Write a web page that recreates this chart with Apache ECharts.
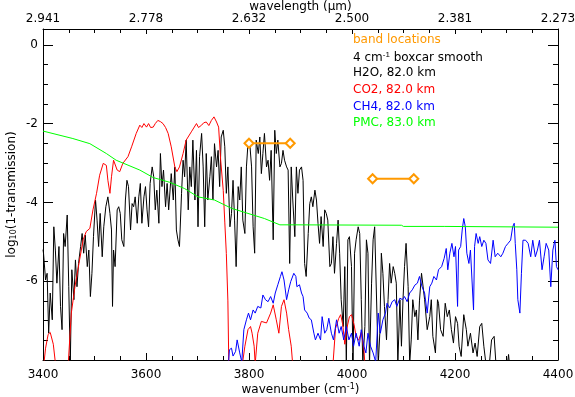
<!DOCTYPE html>
<html>
<head>
<meta charset="utf-8">
<script src="https://cdn.jsdelivr.net/npm/echarts@6/dist/echarts.min.js"></script>
<style>
  html, body { margin: 0; padding: 0; background: #fff; }
  #chart { width: 575px; height: 397px; }
</style>
</head>
<body>
<div id="chart"></div>
<script>
// H2O, 82 km
var h2oWn = [3400,3401,3405,3408,3411,3414,3418,3421,3424,3427,3431,3434,3437,3440,3443,3447,3450,3453,3456,3460,3463,3466,3469,3473,3476,3479,3482,3486,3489,3492,3495,3498,3502,3505,3508,3511,3515,3518,3522,3526,3530,3533,3535,3537,3540,3544,3547,3550,3553,3557,3560,3563,3566,3570,3573,3576,3579,3583,3586,3589,3592,3596,3599,3602,3605,3608,3612,3615,3618,3621,3625,3628,3631,3634,3638,3641,3644,
  3649,3653,3656,3659,3662,3665,3669,3672,3675,3678,3682,3685,3688,3691,3695,3698,3701,3704,3708,3711,3714,3717,3720,3724,3727,3730,3733,3737,3740,3743,3746,3750,3753,3756,3759,3763,3766,3769,3772,3775,3779,3782,3785,3788,3792,3795,3798,3801,3805,3808,3811,3814,3818,3821,3824,3827,3830,3834,3837,3840,3843,3847,3850,3853,3856,3860,3863,3866,3869,3873,3876,
  3879,3882,3885,3889,3892,3895,3898,3902,3905,3908,3911,3915,3918,3921,3924,3928,3931,3934,3937,3940,3944,3947,3950,3953,3957,3960,3963,3966,3970,3973,3976,3979,3983,3986,3989,3992,3995,3999,4002,4005,4008,4012,4015,4018,4021,4025,4028,4031,4034,4038,4041,4044,4047,4051,4054,4057,4060,4063,4067,4070,4073,4076,4080,4083,4086,4089,4093,4096,4099,4102,4105,4109,4112,4115,4118,
  4122,4125,4128,4131,4135,4138,4141,4146,4151,4154,4157,4162,4166,4168,4172,4177,4181,4185,4189,4193,4197,4201,4205,4208,4212,4217,4222,4225,4230,4235,4239,4243,4248,4252,4256,4261,4266,4271,4276,4280,4290,4300,4304,4307];
var h2oVal = [-5.2,-5.29,-5.97,-5.8,-7.32,-6.3,-6.98,-4.62,-5.21,-6.05,-5.12,-6.64,-7.23,-4.79,-5.12,-4.32,-6.14,-8.1,-5.71,-6.47,-5.46,-6.14,-5.55,-5.12,-4.79,-5.29,-4.83,-5.63,-5.21,-6.39,-5.8,-4.87,-3.94,-4.45,-5.12,-4.28,-5.38,-4.62,-4.11,-3.86,-4.28,-4.7,-6.64,-5.21,-5.63,-4.19,-4.11,-4.28,-4.95,-5.12,-3.94,-3.44,-3.6,-4.7,-4.03,-4.11,-3.86,-4.53,-3.86,-3.52,-4.53,-3.86,-3.6,-4.19,-4.62,-3.52,-3.1,-3.35,-4.19,-3.69,-4.53,-2.76,-3.6,-3.18,-4.11,-3.52,-4.19,
  -3.27,-3.94,-3.1,-4.7,-4.95,-5.12,-3.77,-2.93,-3.35,-2.42,-4.19,-3.1,-3.6,-2.42,-3.94,-2.68,-4.62,-2.84,-2.25,-3.1,-4.62,-2.76,-3.94,-3.35,-2.84,-3.94,-2.51,-3.1,-2.68,-3.6,-2.34,-2.17,-2.59,-3.77,-3.1,-4.62,-4.28,-3.44,-4.45,-5.63,-3.6,-3.94,-3.1,-4.45,-4.79,-3.1,-2.51,-2.42,-3.1,-4.62,-5.29,-2.42,-2.76,-2.34,-3.27,-2.76,-2.25,-3.1,-2.93,-3.44,-2.68,-4.95,-2.17,-2.76,-2.42,-3.1,-3.01,-2.68,-2.93,-3.1,-3.18,
  -5.55,-3.1,-3.94,-4.87,-3.1,-3.77,-3.18,-3.1,-3.44,-5.55,-5.88,-4.79,-4.03,-3.86,-4.11,-3.69,-3.94,-4.53,-5.04,-4.36,-5.12,-4.19,-4.28,-4.45,-5.63,-5.55,-4.87,-5.8,-5.04,-4.45,-5.29,-6.47,-7.15,-5.63,-8.1,-4.95,-4.87,-5.63,-8.1,-5.29,-4.95,-4.62,-4.79,-6.47,-8.1,-7.15,-4.95,-5.29,-8.1,-6.05,-4.95,-4.62,-4.62,-8.1,-7.32,-5.29,-5.8,-6.64,-7.49,-6.47,-5.55,-6.05,-5.63,-5.8,-6.05,-8.1,-6.47,-7.65,-6.47,-5.63,-5.04,-6.14,-8.1,-7.49,-6.47,
  -6.9,-6.73,-7.49,-6.5,-5.8,-5.76,-6.47,-7.23,-6.9,-6.47,-7.4,-7.82,-6.47,-6.56,-7.23,-7.4,-6.56,-6.9,-6.73,-7.23,-7.57,-6.9,-7.07,-7.65,-7.91,-6.85,-7.23,-7.65,-7.32,-7.82,-7.57,-7.91,-7.15,-7.07,-7.65,-8.2,-8.2,-7.49,-7.4,-8.2,-8.3,-8.3,-7.86,-8.3];

// CO2, 82 km (below the axis where it drops out)
var co2Wn = [3400,3405,3410,3414,3420,3426,3445,3449,3455,3462,3471,3478,3484,3491,3497,3504,3510,3517,3523,3526,3530,3533,3537,3544,3549,3555,3565,3572,3581,3588,3592,3596,3601,3605,3609,3614,3618,3623,3628,3633,3638,3643,3649,3656,3660,3665,3672,3678,3688,3698,3702,3708,3712,3717,3722,3727,3732,3737,3741,3745,3750,3753,3756,3759,3761,
  3785,3792,3798,3803,3806,3810,3812,3817,3824,3834,3842,3847,3853,3858,3863,3868,3873,3877,3882,3886,3962,3968,3974,3978,3982,3986,3990,3995,3999,4004,4008,4013,4018,4023,4026];
var co2Val = [-8.3,-7.7,-7.35,-7.3,-7.6,-8.3,-8.3,-8.1,-6.81,-6.14,-5.46,-4.95,-4.74,-4.66,-4.19,-3.77,-3.31,-3.01,-3.06,-3.44,-3.77,-3.35,-2.93,-3.18,-3.22,-3.01,-2.84,-2.59,-2.25,-2.04,-2.1,-2.0,-2.09,-2.0,-2.1,-2.09,-2.0,-1.92,-1.95,-2.0,-2.1,-2.25,-2.59,-3.1,-3.22,-3.1,-2.76,-2.42,-2.21,-2.0,-2.1,-2.04,-1.98,-1.96,-2.05,-1.92,-1.83,-1.96,-2.09,-2.93,-3.7,-4.5,-5.3,-6.5,-8.3,
  -8.3,-7.65,-7.23,-7.15,-7.32,-7.65,-8.1,-7.32,-7.02,-7.06,-6.81,-6.6,-6.98,-7.32,-6.64,-6.47,-6.81,-7.23,-7.65,-8.3,-8.3,-7.2,-6.95,-6.85,-7.1,-7.6,-7.2,-6.9,-6.85,-7.1,-7.4,-7.5,-7.3,-7.7,-8.3];

// CH4, 82 km
var ch4Wn = [3759,3762,3766,3769,3774,3777,3782,3786,3790,3795,3799,3803,3808,3812,3817,3823,3827,3832,3837,3842,3847,3851,3856,3861,3864,3868,3873,3877,3881,3887,3891,3893,3898,3902,3905,3908,3913,3917,3921,3926,3929,3934,3939,3942,3947,3951,3955,3960,3964,3970,3975,3979,3984,3989,3994,3999,4003,4008,4014,4018,4023,4027,4031,4036,4041,4046,4051,4055,4060,4065,4068,4073,4078,4083,4087,4093,4098,4102,4107,4112,4117,
  4122,4127,4131,4136,4141,4146,4151,4155,4159,4164,4168,4174,4179,4183,4186,4190,4194,4198,4201,4205,4207,4211,4214,4217,4220,4223,4227,4230,4233,4236,4238,4241,4245,4248,4252,4256,4260,4264,4269,4274,4278,4283,4289,4293,4298,4303,4308,4312,4315,4317,4320,4322,4326,4329,4332,4337,4342,4347,4351,4356,4360,4364,4369,4373,4377,4382,4386,4390,4394,4397,4400];
var ch4Val = [-8.3,-7.74,-7.7,-7.9,-7.78,-7.49,-7.82,-8.05,-7.23,-6.98,-6.81,-6.98,-6.73,-6.81,-6.64,-6.68,-6.35,-6.47,-6.52,-6.39,-6.56,-6.3,-6.09,-5.88,-5.76,-5.97,-6.47,-6.22,-6.01,-5.8,-5.88,-6.14,-6.09,-6.3,-6.39,-6.73,-6.81,-6.94,-6.98,-7.32,-7.49,-7.32,-7.49,-6.9,-7.32,-7.23,-6.94,-7.32,-7.49,-6.98,-7.32,-7.15,-7.49,-7.15,-7.49,-7.32,-7.65,-7.32,-7.65,-7.23,-7.65,-7.82,-7.32,-7.65,-7.82,-8.05,-6.81,-7.32,-6.98,-6.81,-6.56,-6.68,-6.52,-6.47,-6.64,-6.43,-6.47,-6.39,-6.52,-6.3,-6.22,
  -6.1,-6.05,-5.88,-6.14,-6.3,-6.81,-6.14,-6.05,-5.88,-5.97,-5.71,-5.63,-5.42,-5.17,-5.71,-5.29,-5.04,-5.38,-5.12,-6.64,-5.21,-5.12,-4.7,-4.41,-4.62,-5.29,-5.55,-5.21,-5.97,-6.73,-5.12,-4.79,-5.04,-4.87,-5.12,-4.96,-5.04,-5.46,-5.55,-4.96,-5.38,-5.29,-5.38,-5.29,-5.12,-5.04,-4.96,-4.62,-4.53,-5.04,-5.71,-6.47,-6.81,-5.8,-4.96,-4.96,-5.04,-5.38,-4.96,-5.38,-5.21,-4.96,-5.71,-5.38,-5.04,-5.21,-6.14,-5.21,-4.96,-5.63,-5.71];

// PMC, 83 km
var pmcWn = [3400,3458,3491,3523,3542,3588,3614,3646,3675,3701,3733,3766,3798,3830,3860,3889,4096,4100,4179,4182,4400];
var pmcVal = [-2.19,-2.38,-2.51,-2.76,-2.93,-3.18,-3.37,-3.49,-3.65,-3.86,-3.94,-4.15,-4.28,-4.41,-4.57,-4.57,-4.58,-4.61,-4.61,-4.63,-4.63];

// band locations
var bandStart = [3800, 4040];
var bandEnd = [3880, 4120];
var bandLevel = [-2.5, -3.4];

var xTicks = [3400, 3600, 3800, 4000, 4200, 4400];

function pairs(xs, ys) {
    return xs.map(function (x, i) { return [x, ys[i]]; });
}

var bandData = [];
bandStart.forEach(function (s, i) {
    bandData.push([s, bandLevel[i]]);
    bandData.push([bandEnd[i], bandLevel[i]]);
    if (i < bandStart.length - 1) bandData.push([s, null]);
});

var font = 'DejaVu Sans';

function spectrum(name, data, color) {
    return {
        name: name,
        type: 'line',
        data: data,
        showSymbol: false,
        clip: true,
        lineStyle: { color: color, width: 1 },
        itemStyle: { color: color },
        animation: false
    };
}

var myChart = echarts.init(document.getElementById('chart'));

var axisCommon = {
    type: 'value',
    nameMoveOverlap: false,
    axisLine: { show: true, onZero: false, lineStyle: { color: '#000', width: 1 } },
    splitLine: { show: false },
    axisLabel: { color: '#000', fontFamily: font, fontSize: 12 }
};

var option = {
    backgroundColor: '#fff',
    animation: false,
    grid: { left: 43, right: 17, top: 29, bottom: 37, containLabel: false, outerBoundsMode: 'none' },
    xAxis: [
        Object.assign({}, axisCommon, {
            position: 'bottom',
            min: xTicks[0], max: xTicks[xTicks.length - 1], interval: 200,
            name: 'wavenumber (cm{sup|-1})',
            nameLocation: 'middle', nameGap: 23,
            nameTextStyle: { color: '#000', fontFamily: font, fontSize: 12,
                rich: { sup: { fontSize: 8, verticalAlign: 'top', padding: [0, 0, 6, 0], fontFamily: font } } },
            axisTick: { show: true, inside: true, length: 7, lineStyle: { color: '#000' } },
            minorTick: { show: true, splitNumber: 4, length: 4, lineStyle: { color: '#000' } },
            axisLabel: { color: '#000', fontFamily: font, fontSize: 12, margin: 9,
                formatter: function (v) { return String(v); } }
        }),
        Object.assign({}, axisCommon, {
            position: 'top',
            min: xTicks[0], max: xTicks[xTicks.length - 1], interval: 200,
            name: 'wavelength (\u03bcm)',
            nameLocation: 'middle', nameGap: 16,
            nameTextStyle: { color: '#000', fontFamily: font, fontSize: 12 },
            axisTick: { show: true, inside: true, length: 5, lineStyle: { color: '#000' } },
            minorTick: { show: true, splitNumber: 4, length: 4, lineStyle: { color: '#000' } },
            axisLabel: { color: '#000', fontFamily: font, fontSize: 12, margin: 4,
                formatter: function (v) { return (10000 / v).toFixed(3); } }
        })
    ],
    yAxis: [
        Object.assign({}, axisCommon, {
            position: 'left',
            min: -8, max: 0.4, interval: 2,
            name: 'log{sub|10}(1-transmission)',
            nameLocation: 'middle', nameGap: 25,
            nameTextStyle: { color: '#000', fontFamily: font, fontSize: 12,
                rich: { sub: { fontSize: 8, verticalAlign: 'bottom', padding: [5, 0, 0, 0], fontFamily: font } } },
            axisTick: { show: true, inside: true, length: 10, lineStyle: { color: '#000' } },
            minorTick: { show: true, splitNumber: 4, length: 5, lineStyle: { color: '#000' } },
            axisLabel: { color: '#000', fontFamily: font, fontSize: 12, margin: 5,
                formatter: function (v) { return (v <= -8 || v > 0) ? '' : String(v); } }
        }),
        Object.assign({}, axisCommon, {
            position: 'right',
            min: -8, max: 0.4, interval: 2,
            axisTick: { show: true, inside: true, length: 10, lineStyle: { color: '#000' } },
            minorTick: { show: true, splitNumber: 4, length: 5, lineStyle: { color: '#000' } },
            axisLabel: { show: false }
        })
    ],
    series: [
        spectrum('H2O', pairs(h2oWn, h2oVal), '#000000'),
        spectrum('CO2', pairs(co2Wn, co2Val), '#ff0000'),
        spectrum('CH4', pairs(ch4Wn, ch4Val), '#0000ff'),
        spectrum('PMC', pairs(pmcWn, pmcVal), '#00ff00'),
        {
            name: 'bands',
            type: 'line',
            data: bandData,
            connectNulls: false,
            symbol: 'emptyDiamond',
            symbolSize: 9,
            showSymbol: true,
            lineStyle: { color: '#ff9900', width: 2 },
            itemStyle: { color: '#ff9900', borderWidth: 2 },
            animation: false
        }
    ],
    graphic: [
        { type: 'text', left: 353, top: 34, style: { text: 'band locations', fill: '#ff9900', font: '12px ' + font } },
        { type: 'text', left: 353, top: 51, style: { text: '4 cm{s|-1} boxcar smooth', fill: '#000', font: '12px ' + font,
            rich: { s: { fontSize: 8, fill: '#000', verticalAlign: 'top', padding: [0, 0, 6, 0] } } } },
        { type: 'text', left: 353, top: 67, style: { text: 'H2O, 82.0 km', fill: '#000', font: '12px ' + font } },
        { type: 'text', left: 353, top: 84, style: { text: 'CO2, 82.0 km', fill: '#ff0000', font: '12px ' + font } },
        { type: 'text', left: 353, top: 101, style: { text: 'CH4, 82.0 km', fill: '#0000ff', font: '12px ' + font } },
        { type: 'text', left: 353, top: 117, style: { text: 'PMC, 83.0 km', fill: '#00ff00', font: '12px ' + font } }
    ]
};

myChart.setOption(option);
</script>
</body>
</html>
